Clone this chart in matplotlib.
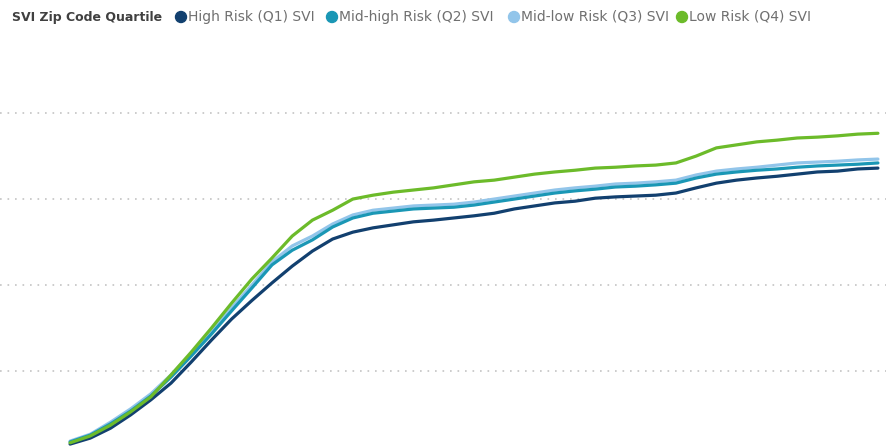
import matplotlib

matplotlib.use("Agg")
import matplotlib.pyplot as plt

# weekly cumulative share (%) by SVI zip code quartile
weeks = list(range(41))
q1_high = [3.0, 4.4, 6.7, 9.8, 13.3, 17.2, 22.1, 27.2, 32.1, 36.4, 40.5, 44.4, 47.9, 50.7,
           52.3, 53.3, 54.0, 54.7, 55.1, 55.6, 56.1, 56.7, 57.7, 58.4, 59.1, 59.5, 60.2, 60.5,
           60.7, 60.9, 61.4, 62.6, 63.7, 64.4, 64.9, 65.3, 65.8, 66.3, 66.5, 67.0, 67.2]
q2_midhigh = [3.5, 5.1, 7.7, 10.7, 14.2, 18.6, 23.5, 28.6, 34.0, 39.3, 44.7, 48.1, 50.5, 53.5,
              55.6, 56.7, 57.2, 57.7, 57.9, 58.1, 58.6, 59.3, 60.0, 60.7, 61.4, 61.9, 62.3, 62.8,
              63.0, 63.3, 63.7, 64.9, 65.8, 66.3, 66.7, 67.0, 67.4, 67.7, 67.9, 68.1, 68.4]
q3_midlow = [3.7, 5.3, 8.1, 11.2, 14.7, 19.1, 24.0, 29.3, 34.7, 40.0, 45.4, 49.1, 51.4, 54.2,
             56.3, 57.4, 57.9, 58.4, 58.6, 58.8, 59.3, 60.0, 60.7, 61.4, 62.1, 62.6, 63.0, 63.5,
             63.7, 64.0, 64.4, 65.6, 66.5, 67.0, 67.4, 67.9, 68.4, 68.6, 68.8, 69.1, 69.3]
q4_low = [3.3, 4.9, 7.4, 10.5, 14.0, 19.1, 24.4, 30.0, 35.8, 41.4, 46.3, 51.4, 55.1, 57.4,
          60.0, 60.9, 61.6, 62.1, 62.6, 63.3, 64.0, 64.4, 65.1, 65.8, 66.3, 66.7, 67.2, 67.4,
          67.7, 67.9, 68.4, 70.0, 71.9, 72.6, 73.3, 73.7, 74.2, 74.4, 74.7, 75.1, 75.3]
grid_values = [20, 40, 60, 80]

SERIES = [
    ("High Risk (Q1) SVI", q1_high, "#12406f"),
    ("Mid-high Risk (Q2) SVI", q2_midhigh, "#1a97b5"),
    ("Mid-low Risk (Q3) SVI", q3_midlow, "#92c5ea"),
    ("Low Risk (Q4) SVI", q4_low, "#6cbb2a"),
]

fig = plt.figure(figsize=(8.86, 4.46), dpi=100)
ax = fig.add_axes([0, 0, 1, 1])

# draw Q3 under Q2 so the teal stays on top like the original
for idx in [2, 0, 1, 3]:
    name, vals, color = SERIES[idx]
    ax.plot(weeks, vals, color=color, lw=2.3, solid_capstyle="round", zorder=3)

ax.set_xlim(-3.47, 40.4)
ax.set_ylim(2.56, 106.3)
ax.set_yticks(grid_values)
ax.grid(axis="y", color="#c4c4c4", lw=1.2, linestyle=(0, (1, 3.5)))
ax.tick_params(left=False, bottom=False, labelleft=False, labelbottom=False)
for s in ax.spines.values():
    s.set_visible(False)

# legend row across the top
fig.text(12 / 886, 1 - 17 / 446, "SVI Zip Code Quartile", fontsize=9, fontweight="bold",
         color="#404040", va="center", ha="left", family="DejaVu Sans")
marker_x = [181, 332, 514, 682]
for (name, _, color), mx in zip(SERIES, marker_x):
    fig.patches.append(matplotlib.patches.Ellipse(
        (mx / 886, 1 - 17 / 446), 11 / 886, 11 / 446, transform=fig.transFigure,
        color=color, zorder=5))
    fig.text((mx + 7) / 886, 1 - 17 / 446, name, fontsize=10, color="#707070",
             va="center", ha="left", family="DejaVu Sans")

fig.savefig("out.png", dpi=100)
